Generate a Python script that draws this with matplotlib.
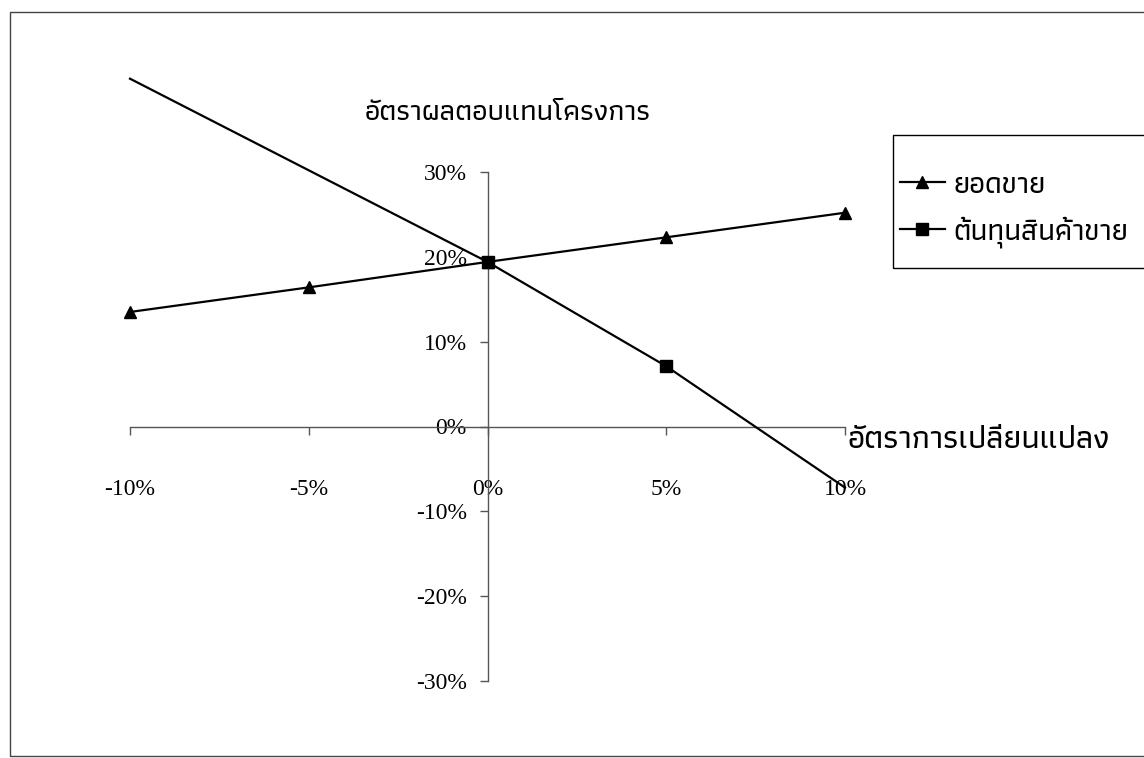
import matplotlib
matplotlib.use('Agg')
from matplotlib import pyplot as plt
from matplotlib.ticker import FuncFormatter

change = [-10, -5, 0, 5, 10]
sales_irr = [13.5, 16.4, 19.4, 22.3, 25.2]
cost_irr = [41.0, 30.2, 19.4, 7.1, -7.2]
y_ticks = [-30, -20, -10, 0, 10, 20, 30]
series_names = ['ยอดขาย', 'ต้นทุนสินค้าขาย']
y_title = 'อัตราผลตอบแทนโครงการ'
x_title = 'อัตราการเปลี่ยนแปลง'

thai_font = dict(family=['Athiti', 'DejaVu Sans'], weight='medium')
num_font = 'Liberation Serif'

W, H = 1144, 758
fig = plt.figure(figsize=(W / 100, H / 100), dpi=100)

# plot area: x -10..10 -> px 130..845, y 30..-30 -> px 172..681
ax = fig.add_axes([130 / W, 1 - 681 / H, 715 / W, 509 / H])
ax.set_xlim(-10, 10)
ax.set_ylim(-30, 30)

ax.plot(change, sales_irr, color='black', lw=1.6, marker='^', ms=8,
        clip_on=False, label=series_names[0], zorder=3)
ax.plot(change, cost_irr, color='black', lw=1.6, marker='s', ms=8,
        markevery=[2, 3], clip_on=False, label=series_names[1], zorder=3)

for s in ['top', 'right']:
    ax.spines[s].set_visible(False)
for s in ['left', 'bottom']:
    ax.spines[s].set_position(('data', 0))
    ax.spines[s].set_color('#555555')
    ax.spines[s].set_linewidth(1.0)

pct = FuncFormatter(lambda v, p: '%d%%' % v)
ax.set_xticks(change)
ax.set_yticks(y_ticks)
ax.xaxis.set_major_formatter(pct)
ax.yaxis.set_major_formatter(pct)
ax.tick_params(axis='x', direction='out', length=6, width=1, color='#555555', pad=32)
ax.tick_params(axis='y', direction='out', length=6, width=1, color='#555555', pad=9)
for lab in ax.get_xticklabels() + ax.get_yticklabels():
    lab.set_fontfamily(num_font)
    lab.set_fontsize(17)

fig.text(508 / W, 1 - 113 / H, y_title, ha='center', va='center', fontsize=21, **thai_font)
fig.text(847 / W, 1 - 440 / H, x_title, ha='left', va='center', fontsize=23.5, **thai_font)

leg = fig.legend(loc='upper left', bbox_to_anchor=(900 / W, 1 - 172 / H),
                 frameon=False, prop=dict(size=21.5, **thai_font), handlelength=1.5,
                 labelspacing=0.6, borderpad=0, handletextpad=0.3, borderaxespad=0)

# legend box and chart area border
fig.add_artist(plt.Rectangle((893 / W, 1 - 268 / H), 300 / W, 133 / H, transform=fig.transFigure,
                             fill=False, ec='black', lw=1.0))
fig.add_artist(plt.Rectangle((10 / W, 2 / H), 1140 / W, 1 - 14 / H, transform=fig.transFigure,
                             fill=False, ec='#444444', lw=1.0))

fig.savefig('out.png')
